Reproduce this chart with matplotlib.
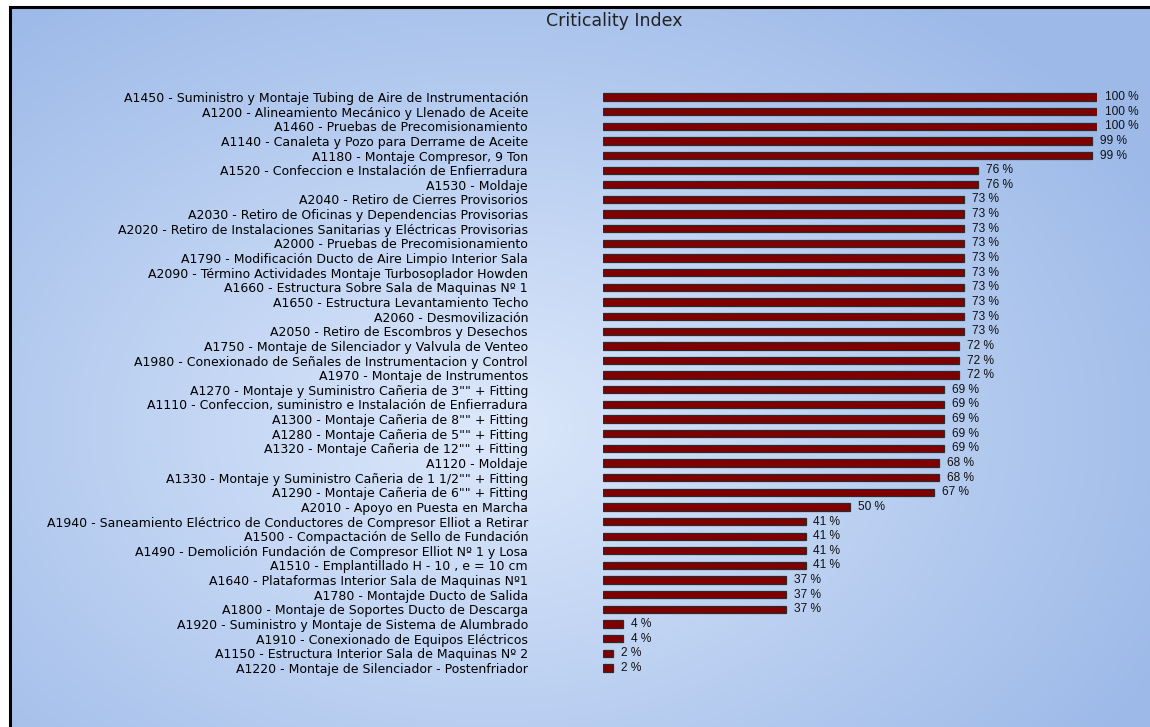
import numpy as np
import matplotlib.pyplot as plt

# activity labels and criticality (%), top to bottom
activities = [
    "A1450 - Suministro y Montaje Tubing de Aire de Instrumentación",
    "A1200 - Alineamiento Mecánico y Llenado de Aceite",
    "A1460 - Pruebas de Precomisionamiento",
    "A1140 - Canaleta y Pozo para Derrame de Aceite",
    "A1180 - Montaje Compresor, 9 Ton",
    "A1520 - Confeccion e Instalación de Enfierradura",
    "A1530 - Moldaje",
    "A2040 - Retiro de Cierres Provisorios",
    "A2030 - Retiro de Oficinas y Dependencias Provisorias",
    "A2020 - Retiro de Instalaciones Sanitarias y Eléctricas Provisorias",
    "A2000 - Pruebas de Precomisionamiento",
    "A1790 - Modificación Ducto de Aire Limpio Interior Sala",
    "A2090 - Término Actividades Montaje Turbosoplador Howden",
    "A1660 - Estructura Sobre Sala de Maquinas Nº 1",
    "A1650 - Estructura Levantamiento Techo",
    "A2060 - Desmovilización",
    "A2050 - Retiro de Escombros y Desechos",
    "A1750 - Montaje de Silenciador y Valvula de Venteo",
    "A1980 - Conexionado de Señales de Instrumentacion y Control",
    "A1970 - Montaje de Instrumentos",
    "A1270 - Montaje y Suministro Cañeria de 3\"\" + Fitting",
    "A1110 - Confeccion, suministro e Instalación de Enfierradura",
    "A1300 - Montaje Cañeria de 8\"\" + Fitting",
    "A1280 - Montaje Cañeria de 5\"\" + Fitting",
    "A1320 - Montaje Cañeria de 12\"\" + Fitting",
    "A1120 - Moldaje",
    "A1330 - Montaje y Suministro Cañeria de 1 1/2\"\" + Fitting",
    "A1290 - Montaje Cañeria de 6\"\" + Fitting",
    "A2010 - Apoyo en Puesta en Marcha",
    "A1940 - Saneamiento Eléctrico de Conductores de Compresor Elliot a Retirar",
    "A1500 - Compactación de Sello de Fundación",
    "A1490 - Demolición Fundación de Compresor Elliot Nº 1 y Losa",
    "A1510 - Emplantillado H - 10 , e = 10 cm",
    "A1640 - Plataformas Interior Sala de Maquinas Nº1",
    "A1780 - Montajde Ducto de Salida",
    "A1800 - Montaje de Soportes Ducto de Descarga",
    "A1920 - Suministro y Montaje de Sistema de Alumbrado",
    "A1910 - Conexionado de Equipos Eléctricos",
    "A1150 - Estructura Interior Sala de Maquinas Nº 2",
    "A1220 - Montaje de Silenciador - Postenfriador",
]
criticality = [100, 100, 100, 99, 99, 76, 76, 73, 73, 73, 73, 73, 73, 73, 73,
               73, 73, 72, 72, 72, 69, 69, 69, 69, 69, 68, 68, 67, 50, 41,
               41, 41, 41, 37, 37, 37, 4, 4, 2, 2]

W, H = 1150, 727
fig = plt.figure(figsize=(W / 100, H / 100), dpi=100)
fig.patch.set_facecolor("white")

# background panel with radial gradient and black frame (left/top)
bg = fig.add_axes([10 / W, 0, 1 - 10 / W, 1 - 7 / H])
yy, xx = np.mgrid[0:720, 0:1140]
r = np.sqrt(((xx - 480) / 760) ** 2 + ((yy - 420) / 540) ** 2)
r = np.clip(r, 0, 1)
c_in = np.array([220, 232, 251]) / 255
c_out = np.array([156, 185, 232]) / 255
img = c_in[None, None, :] * (1 - r[..., None]) + c_out[None, None, :] * r[..., None]
bg.imshow(img, aspect="auto", extent=[0, 1, 0, 1], origin="upper")
bg.set_xlim(0, 1)
bg.set_ylim(0, 1)
bg.set_xticks([])
bg.set_yticks([])
for s in ["right", "bottom"]:
    bg.spines[s].set_visible(False)
for s in ["left", "top"]:
    bg.spines[s].set_linewidth(2.2)
    bg.spines[s].set_color("black")

fig.text(614 / W, 1 - 21 / H, "Criticality Index", ha="center", va="center",
         fontsize=12.5, color="#222222", family="DejaVu Sans")

n = len(activities)
row = 14.64
top = 97 - row / 2
ax = fig.add_axes([603 / W, 1 - (top + n * row) / H, 494 / W, n * row / H])
ax.patch.set_alpha(0)
y = np.arange(n)
ax.barh(y, criticality, height=0.5, color="#800000", edgecolor="#2b2b2b",
        linewidth=0.9)
ax.set_xlim(0, 100)
ax.set_ylim(n - 0.5, -0.5)
ax.set_yticks(y)
ax.set_yticklabels(activities, fontsize=9, family="DejaVu Sans")
ax.tick_params(axis="y", length=0, pad=54)
ax.set_xticks([])
for s in ax.spines.values():
    s.set_visible(False)

for yi, v in zip(y, criticality):
    ax.text(v + 1.6, yi, f"{v} %", va="center", ha="left", fontsize=8.6,
            family="Liberation Sans", color="#111111", clip_on=False)

fig.savefig("out.png", dpi=100)
